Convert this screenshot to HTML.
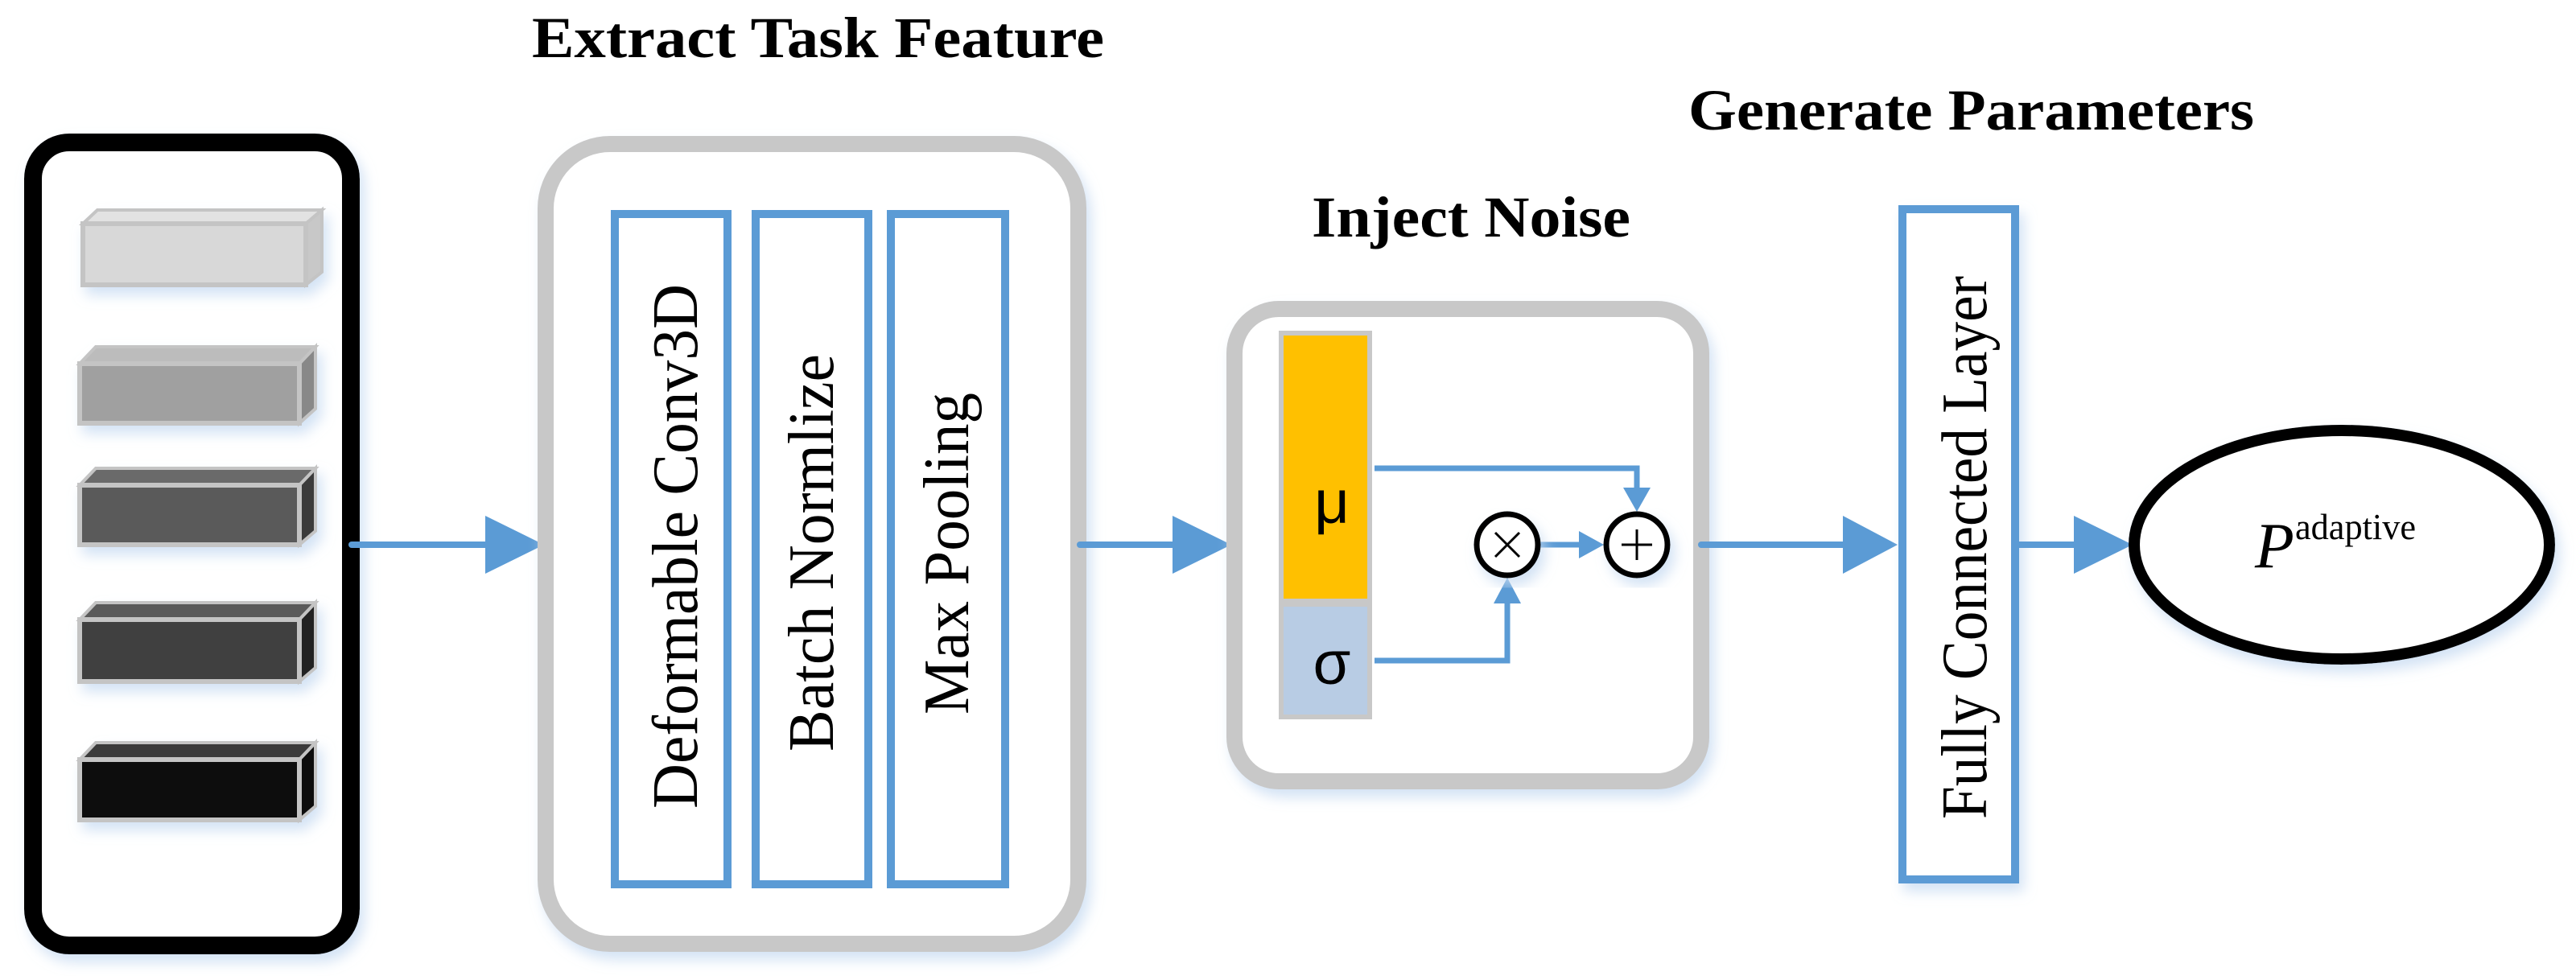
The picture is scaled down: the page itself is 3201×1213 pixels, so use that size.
<!DOCTYPE html>
<html><head><meta charset="utf-8"><style>
html,body{margin:0;padding:0;background:#fff;}
svg{display:block;}
text{font-family:"Liberation Serif",serif;}
</style></head><body>
<svg width="3201" height="1213" viewBox="0 0 3201 1213" xmlns="http://www.w3.org/2000/svg">
<defs>
<filter id="g" x="-10%" y="-10%" width="130%" height="130%">
<feDropShadow dx="6" dy="10" stdDeviation="8" flood-color="#c9dcf2" flood-opacity="0.8"/>
</filter>
</defs>

<text x="661" y="71" font-size="72" font-weight="bold" textLength="711" lengthAdjust="spacingAndGlyphs">Extract Task Feature</text>
<text x="1630" y="294" font-size="72" font-weight="bold" textLength="396" lengthAdjust="spacingAndGlyphs">Inject Noise</text>
<text x="2098" y="161" font-size="72" font-weight="bold" textLength="703" lengthAdjust="spacingAndGlyphs">Generate Parameters</text>

<rect x="41" y="177" width="395" height="998" rx="45" fill="#fff" stroke="#000" stroke-width="22" filter="url(#g)"/>

<g filter="url(#g)">
<g>
<polygon points="103,278 121,261 400,261 380,278" fill="#e2e2e2" stroke="#c4c4c4" stroke-width="4"/>
<polygon points="380,278 400,261 400,338 380,354" fill="#c8c8c8" stroke="#c4c4c4" stroke-width="4"/>
<rect x="103" y="278" width="277" height="76" fill="#d8d8d8" stroke="#c4c4c4" stroke-width="6"/>
</g>
<g>
<polygon points="99,452 119,431 392,431 372,452" fill="#bcbcbc" stroke="#c4c4c4" stroke-width="4"/>
<polygon points="372,452 392,431 392,508 372,526" fill="#888" stroke="#c4c4c4" stroke-width="4"/>
<rect x="99" y="452" width="273" height="74" fill="#a0a0a0" stroke="#c4c4c4" stroke-width="6"/>
</g>
<g>
<polygon points="99,603 119,582 392,582 372,603" fill="#6a6a6a" stroke="#c4c4c4" stroke-width="4"/>
<polygon points="372,603 392,582 392,660 372,677" fill="#3a3a3a" stroke="#c4c4c4" stroke-width="4"/>
<rect x="99" y="603" width="273" height="74" fill="#5a5a5a" stroke="#c4c4c4" stroke-width="6"/>
</g>
<g>
<polygon points="99,770 119,749 392,749 372,770" fill="#5a5a5a" stroke="#c4c4c4" stroke-width="4"/>
<polygon points="372,770 392,749 392,830 372,847" fill="#222" stroke="#c4c4c4" stroke-width="4"/>
<rect x="99" y="770" width="273" height="77" fill="#404040" stroke="#c4c4c4" stroke-width="6"/>
</g>
<g>
<polygon points="99,944 119,923 392,923 372,944" fill="#3a3a3a" stroke="#c4c4c4" stroke-width="4"/>
<polygon points="372,944 392,923 392,1002 372,1019" fill="#111" stroke="#c4c4c4" stroke-width="4"/>
<rect x="99" y="944" width="273" height="75" fill="#0d0d0d" stroke="#c4c4c4" stroke-width="6"/>
</g>
</g>

<line x1="437" y1="677" x2="610" y2="677" stroke="#5b9bd5" stroke-width="8" stroke-linecap="round"/>
<polygon points="603,641 676,677 603,713" fill="#5b9bd5"/>

<rect x="678" y="179" width="662" height="994" rx="80" fill="#fff" stroke="#c8c8c8" stroke-width="20" filter="url(#g)"/>
<rect x="764" y="266" width="140" height="833" fill="#fff" stroke="#5b9bd5" stroke-width="10"/>
<rect x="939" y="266" width="140" height="833" fill="#fff" stroke="#5b9bd5" stroke-width="10"/>
<rect x="1107" y="266" width="142" height="833" fill="#fff" stroke="#5b9bd5" stroke-width="10"/>
<text transform="translate(866,1005) rotate(-90)" font-size="80" textLength="652" lengthAdjust="spacingAndGlyphs">Deformable Conv3D</text>
<text transform="translate(1035,934) rotate(-90)" font-size="80" textLength="494" lengthAdjust="spacingAndGlyphs">Batch Normlize</text>
<text transform="translate(1203,888) rotate(-90)" font-size="80" textLength="400" lengthAdjust="spacingAndGlyphs">Max Pooling</text>

<line x1="1342" y1="677" x2="1465" y2="677" stroke="#5b9bd5" stroke-width="8" stroke-linecap="round"/>
<polygon points="1457,641 1530,677 1457,713" fill="#5b9bd5"/>

<rect x="1534" y="384" width="580" height="587" rx="55" fill="#fff" stroke="#c8c8c8" stroke-width="20" filter="url(#g)"/>
<rect x="1589" y="411" width="116" height="483" fill="#c8c8c8"/>
<rect x="1595" y="417" width="104" height="327" fill="#ffc000"/>
<rect x="1595" y="754" width="104" height="134" fill="#b8cce4"/>
<text x="1655" y="650" font-size="76" text-anchor="middle" style="font-family:'Liberation Sans',sans-serif">μ</text>
<text x="1655" y="850" font-size="76" text-anchor="middle" style="font-family:'Liberation Sans',sans-serif">σ</text>

<polyline points="1708,582 2034,582 2034,612" fill="none" stroke="#5b9bd5" stroke-width="7"/>
<polygon points="2017,606 2051,606 2034,636" fill="#5b9bd5"/>
<polyline points="1708,821 1873,821 1873,744" fill="none" stroke="#5b9bd5" stroke-width="7"/>
<polygon points="1856,750 1890,750 1873,718" fill="#5b9bd5"/>
<line x1="1914" y1="677" x2="1968" y2="677" stroke="#5b9bd5" stroke-width="7"/>
<polygon points="1962,660 1993,677 1962,694" fill="#5b9bd5"/>
<g filter="url(#g)">
<circle cx="1873" cy="677" r="38" fill="#fff" stroke="#000" stroke-width="7"/>
<circle cx="2034" cy="677" r="38" fill="#fff" stroke="#000" stroke-width="7"/>
</g>
<line x1="1858" y1="662" x2="1888" y2="692" stroke="#000" stroke-width="3"/>
<line x1="1888" y1="662" x2="1858" y2="692" stroke="#000" stroke-width="3"/>
<line x1="2015" y1="677" x2="2053" y2="677" stroke="#000" stroke-width="3"/>
<line x1="2034" y1="658" x2="2034" y2="696" stroke="#000" stroke-width="3"/>

<line x1="2114" y1="677" x2="2295" y2="677" stroke="#5b9bd5" stroke-width="8" stroke-linecap="round"/>
<polygon points="2290,641 2358,677 2290,713" fill="#5b9bd5"/>

<rect x="2364" y="260" width="140" height="833" fill="#fff" stroke="#5b9bd5" stroke-width="10" filter="url(#g)"/>
<text transform="translate(2468,1018) rotate(-90)" font-size="80" textLength="675" lengthAdjust="spacingAndGlyphs">Fully Connected Layer</text>

<line x1="2508" y1="677" x2="2582" y2="677" stroke="#5b9bd5" stroke-width="8"/>
<polygon points="2577,641 2650,677 2577,713" fill="#5b9bd5"/>

<ellipse cx="2910" cy="677" rx="258" ry="142" fill="#fff" stroke="#000" stroke-width="14" filter="url(#g)"/>
<text x="2802" y="705" font-size="80" font-style="italic">P</text>
<text x="2852" y="670" font-size="46" textLength="150" lengthAdjust="spacingAndGlyphs">adaptive</text>
</svg>
</body></html>
